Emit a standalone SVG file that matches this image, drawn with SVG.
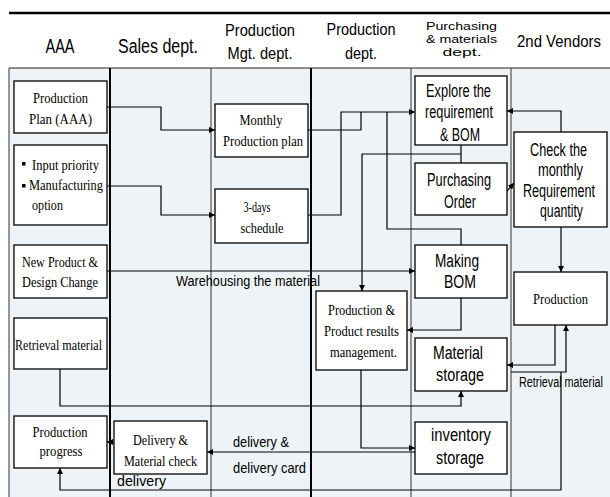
<svg xmlns="http://www.w3.org/2000/svg" width="610" height="497" viewBox="0 0 610 497">
<style>
.hd{font-family:"Liberation Sans",Arial,sans-serif;fill:#000;text-anchor:middle}
.sf{font-family:"Liberation Serif","Times New Roman",serif;font-size:15px;fill:#000;text-anchor:middle}
.ss{font-family:"Liberation Sans",Arial,sans-serif;font-size:18px;fill:#000;text-anchor:middle}
.lb{font-family:"Liberation Sans",Arial,sans-serif;font-size:14px;fill:#000}
.box{fill:#fff;stroke:#000;stroke-width:1.3}
.ln{fill:none;stroke:#000;stroke-width:1.2}
.col{stroke:#333;stroke-width:1}
.colb{stroke:#000;stroke-width:2}
</style>
<defs>
<marker id="ah" viewBox="0 0 10 10" refX="10" refY="5" markerWidth="6" markerHeight="6" markerUnits="userSpaceOnUse" orient="auto">
<path d="M0,0 L10,5 L0,10 z" fill="#000"/>
</marker>
</defs>
<rect x="0" y="0" width="610" height="497" fill="#fff"/>
<g id="lanes">
<rect x="9" y="68" width="601" height="429" fill="#eef3f7"/>
<line x1="9" y1="13" x2="610" y2="13" stroke="#000" stroke-width="2.5"/>
<line x1="9" y1="68" x2="610" y2="68" stroke="#222" stroke-width="1.2"/>
<line x1="9" y1="68" x2="9" y2="497" class="col"/>
<line x1="110" y1="68" x2="110" y2="497" class="colb"/>
<line x1="211" y1="68" x2="211" y2="497" class="col"/>
<line x1="311" y1="68" x2="311" y2="497" class="colb"/>
<line x1="411" y1="68" x2="411" y2="497" class="col"/>
<line x1="511" y1="68" x2="511" y2="497" class="col"/>
<text class="hd" x="60" y="53" font-size="20" textLength="29" lengthAdjust="spacingAndGlyphs">AAA</text>
<text class="hd" x="158" y="53" font-size="20" textLength="80" lengthAdjust="spacingAndGlyphs">Sales dept.</text>
<text class="hd" x="260" y="36" font-size="17" textLength="70" lengthAdjust="spacingAndGlyphs">Production</text>
<text class="hd" x="260" y="59" font-size="17" textLength="65" lengthAdjust="spacingAndGlyphs">Mgt. dept.</text>
<text class="hd" x="361" y="35" font-size="17" textLength="69" lengthAdjust="spacingAndGlyphs">Production</text>
<text class="hd" x="361" y="59" font-size="17" textLength="32" lengthAdjust="spacingAndGlyphs">dept.</text>
<text class="hd" x="461.5" y="30" font-size="11.5" textLength="71" lengthAdjust="spacingAndGlyphs">Purchasing</text>
<text class="hd" x="461.5" y="43" font-size="11.5" textLength="71" lengthAdjust="spacingAndGlyphs">&amp; materials</text>
<text class="hd" x="462" y="56" font-size="11.5" textLength="39" lengthAdjust="spacingAndGlyphs">dept.</text>
<text class="hd" x="559" y="47" font-size="17" textLength="84" lengthAdjust="spacingAndGlyphs">2nd Vendors</text>
</g>
<g id="connectors">
<path class="ln" d="M107,107 H161 V130 H215" marker-end="url(#ah)"/>
<path class="ln" d="M107,186 H161 V215 H215" marker-end="url(#ah)"/>
<path class="ln" d="M308,130 H361 V112"/>
<path class="ln" d="M308,215 H341 V112 H415" marker-end="url(#ah)"/>
<path class="ln" d="M387,112 V229 H461 V245"/>
<path class="ln" d="M461,145 V163"/>
<path class="ln" d="M461,154 H362 V291" marker-end="url(#ah)"/>
<path class="ln" d="M561,132 V111 H507" marker-end="url(#ah)"/>
<path class="ln" d="M507,191 L514,183" marker-end="url(#ah)"/>
<path class="ln" d="M561,227 V272" marker-end="url(#ah)"/>
<path class="ln" d="M107,271 H415" marker-end="url(#ah)"/>
<path class="ln" d="M461,298 V330 H407" marker-end="url(#ah)"/>
<path class="ln" d="M555,325 V365 H507" marker-end="url(#ah)"/>
<path class="ln" d="M511,372 H566 V325" marker-end="url(#ah)"/>
<path class="ln" d="M561,372 V490 H60 V468" marker-end="url(#ah)"/>
<path class="ln" d="M60,369 V406 H461 V391" marker-end="url(#ah)"/>
<path class="ln" d="M361,370 V448 H415" marker-end="url(#ah)"/>
<path class="ln" d="M415,452 H207" marker-end="url(#ah)"/>
<path class="ln" d="M114,442 H107" marker-end="url(#ah)"/>
<text class="lb" x="176" y="286" textLength="144" lengthAdjust="spacingAndGlyphs">Warehousing the material</text>
<text class="lb" x="233" y="447" textLength="56" lengthAdjust="spacingAndGlyphs">delivery &amp;</text>
<text class="lb" x="233" y="473" textLength="73" lengthAdjust="spacingAndGlyphs">delivery card</text>
<text class="lb" x="117" y="486" font-size="15" textLength="49" lengthAdjust="spacingAndGlyphs">delivery</text>
<text class="lb" x="519" y="387" font-size="11.5" textLength="84" lengthAdjust="spacingAndGlyphs">Retrieval material</text>
</g>
<g id="n-plan">
<rect class="box" x="14" y="81" width="93" height="52"/>
<text class="sf" x="60.5" y="103" textLength="55" lengthAdjust="spacingAndGlyphs">Production</text>
<text class="sf" x="60.5" y="124" textLength="63" lengthAdjust="spacingAndGlyphs">Plan (AAA)</text>
</g>
<g id="n-input">
<rect class="box" x="14" y="145" width="93" height="80"/>
<rect x="22" y="162" width="3.5" height="3.5" fill="#000"/>
<rect x="22" y="184" width="3.5" height="3.5" fill="#000"/>
<text class="sf" x="32" y="170" textLength="67" lengthAdjust="spacingAndGlyphs" style="text-anchor:start">Input priority</text>
<text class="sf" x="29" y="190" textLength="74" lengthAdjust="spacingAndGlyphs" style="text-anchor:start">Manufacturing</text>
<text class="sf" x="32" y="210" textLength="31" lengthAdjust="spacingAndGlyphs" style="text-anchor:start">option</text>
</g>
<g id="n-newproduct">
<rect class="box" x="14" y="245" width="93" height="53"/>
<text class="sf" x="60" y="267" textLength="76" lengthAdjust="spacingAndGlyphs">New Product &amp;</text>
<text class="sf" x="60" y="287" textLength="76" lengthAdjust="spacingAndGlyphs">Design Change</text>
</g>
<g id="n-retrieval">
<rect class="box" x="14" y="318" width="93" height="51"/>
<text class="sf" x="58.5" y="350" textLength="87" lengthAdjust="spacingAndGlyphs">Retrieval material</text>
</g>
<g id="n-progress">
<rect class="box" x="14" y="416" width="93" height="52"/>
<text class="sf" x="60" y="437" textLength="55" lengthAdjust="spacingAndGlyphs">Production</text>
<text class="sf" x="61" y="456" textLength="43" lengthAdjust="spacingAndGlyphs">progress</text>
</g>
<g id="n-delivery">
<rect class="box" x="114" y="421" width="93" height="53"/>
<text class="sf" x="160.5" y="445" textLength="55" lengthAdjust="spacingAndGlyphs">Delivery &amp;</text>
<text class="sf" x="160.5" y="466" textLength="73" lengthAdjust="spacingAndGlyphs">Material check</text>
</g>
<g id="n-monthly">
<rect class="box" x="215" y="104" width="93" height="53"/>
<text class="sf" x="261" y="125" textLength="43" lengthAdjust="spacingAndGlyphs">Monthly</text>
<text class="sf" x="263" y="146" textLength="80" lengthAdjust="spacingAndGlyphs">Production plan</text>
</g>
<g id="n-3days">
<rect class="box" x="215" y="189" width="93" height="54"/>
<text class="sf" x="257" y="212" textLength="27" lengthAdjust="spacingAndGlyphs">3-days</text>
<text class="sf" x="262" y="233" textLength="43" lengthAdjust="spacingAndGlyphs">schedule</text>
</g>
<g id="n-results">
<rect class="box" x="316" y="291" width="91" height="79"/>
<text class="sf" x="361.5" y="315" textLength="67" lengthAdjust="spacingAndGlyphs">Production &amp;</text>
<text class="sf" x="361.5" y="336" textLength="75" lengthAdjust="spacingAndGlyphs">Product results</text>
<text class="sf" x="363.5" y="357" textLength="67" lengthAdjust="spacingAndGlyphs">management.</text>
</g>
<g id="n-explore">
<rect class="box" x="415" y="76" width="92" height="69"/>
<text class="ss" x="458.5" y="97" textLength="65" lengthAdjust="spacingAndGlyphs">Explore the</text>
<text class="ss" x="459" y="118" textLength="68" lengthAdjust="spacingAndGlyphs">requirement</text>
<text class="ss" x="460" y="141" textLength="40" lengthAdjust="spacingAndGlyphs">&amp; BOM</text>
</g>
<g id="n-purchasing">
<rect class="box" x="415" y="163" width="92" height="52"/>
<text class="ss" x="459" y="186" textLength="64" lengthAdjust="spacingAndGlyphs">Purchasing</text>
<text class="ss" x="460" y="208" textLength="32" lengthAdjust="spacingAndGlyphs">Order</text>
</g>
<g id="n-makingbom">
<rect class="box" x="415" y="245" width="92" height="53"/>
<text class="ss" x="457" y="267" textLength="44" lengthAdjust="spacingAndGlyphs">Making</text>
<text class="ss" x="460" y="288" textLength="32" lengthAdjust="spacingAndGlyphs">BOM</text>
</g>
<g id="n-material">
<rect class="box" x="415" y="338" width="92" height="53"/>
<text class="ss" x="458" y="359" textLength="50" lengthAdjust="spacingAndGlyphs">Material</text>
<text class="ss" x="460" y="381" textLength="48" lengthAdjust="spacingAndGlyphs">storage</text>
</g>
<g id="n-inventory">
<rect class="box" x="415" y="422" width="92" height="52"/>
<text class="ss" x="461" y="441" textLength="60" lengthAdjust="spacingAndGlyphs">inventory</text>
<text class="ss" x="460" y="464" textLength="48" lengthAdjust="spacingAndGlyphs">storage</text>
</g>
<g id="n-check">
<rect class="box" x="514" y="132" width="93" height="95"/>
<text class="ss" x="558.5" y="156" textLength="57" lengthAdjust="spacingAndGlyphs">Check the</text>
<text class="ss" x="560.5" y="176" textLength="45" lengthAdjust="spacingAndGlyphs">monthly</text>
<text class="ss" x="559" y="197" font-size="16" textLength="72" lengthAdjust="spacingAndGlyphs">Requirement</text>
<text class="ss" x="561.5" y="217" textLength="43" lengthAdjust="spacingAndGlyphs">quantity</text>
</g>
<g id="n-production">
<rect class="box" x="514" y="272" width="93" height="53"/>
<text class="sf" x="560.5" y="304" textLength="55" lengthAdjust="spacingAndGlyphs">Production</text>
</g>
</svg>
